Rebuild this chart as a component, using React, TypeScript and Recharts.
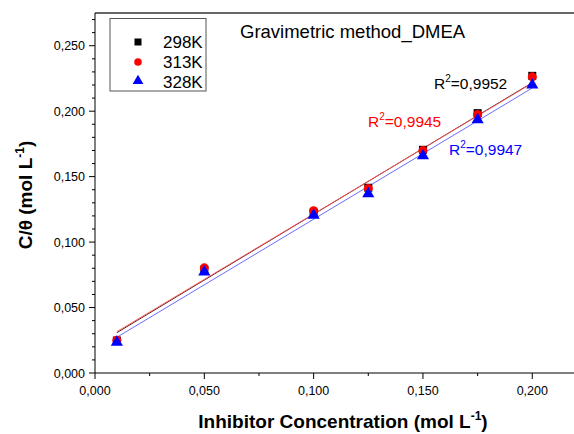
import React from "react";
import {
  ComposedChart,
  Scatter,
  Line,
  XAxis,
  YAxis,
  ReferenceLine,
  Symbols,
} from "recharts";

// inhibitor concentration (mol L-1)
const conc = [0.01, 0.05, 0.1, 0.125, 0.15, 0.175, 0.2];

// C/theta values
const k298 = [0.0248, 0.079, 0.1225, 0.1415, 0.1705, 0.1985, 0.227];
const k313 = [0.025, 0.0803, 0.124, 0.141, 0.17, 0.1975, 0.2262];
const k328 = [0.0235, 0.0772, 0.1205, 0.137, 0.166, 0.1935, 0.22];

// fitted lines, ends at x = 0.01 and x = 0.2
const fitX = [0.01, 0.2];
const fit298 = [0.0308, 0.2218];
const fit313 = [0.0316, 0.2214];
const fit328 = [0.0273, 0.2177];

const r2Labels = ["0,9952", "0,9945", "0,9947"];

const xTicks = [0, 0.025, 0.05, 0.075, 0.1, 0.125, 0.15, 0.175, 0.2];
const yTicks = [
  0, 0.01, 0.02, 0.03, 0.04, 0.05, 0.06, 0.07, 0.08, 0.09, 0.1, 0.11, 0.12,
  0.13, 0.14, 0.15, 0.16, 0.17, 0.18, 0.19, 0.2, 0.21, 0.22, 0.23, 0.24, 0.25,
  0.26, 0.27,
];

const toPts = (xs: number[], ys: number[]) =>
  xs.map((x, i) => ({ x, y: ys[i] }));

const FONT = "'Liberation Sans', Arial, sans-serif";

const fmt = (v: number) => v.toFixed(3).replace(".", ",");
const isMajor = (v: number) => Math.abs(v / 0.05 - Math.round(v / 0.05)) < 1e-6;

const XTick = (props: any) => {
  const { x, y, payload } = props;
  const major = isMajor(payload.value);
  return (
    <g>
      <line x1={x} x2={x} y1={y} y2={y + (major ? 6 : 3)} stroke="#000" />
      {major && (
        <text x={x} y={y + 22} textAnchor="middle" fontSize={12.5} fontFamily={FONT} fill="#000">
          {fmt(payload.value)}
        </text>
      )}
    </g>
  );
};

const YTick = (props: any) => {
  const { x, y, payload } = props;
  const major = isMajor(payload.value);
  return (
    <g>
      <line x1={x} x2={x - (major ? 6 : 3)} y1={y} y2={y} stroke="#000" />
      {major && (
        <text x={x - 10} y={y + 4.5} textAnchor="end" fontSize={12.5} fontFamily={FONT} fill="#000">
          {fmt(payload.value)}
        </text>
      )}
    </g>
  );
};

const R2 = ({ x, y, color, value }: { x: number; y: number; color: string; value: string }) => (
  <text x={x} y={y} fontSize={15.5} fontFamily={FONT} fill={color}>
    R
    <tspan dy={-7} fontSize={10}>2</tspan>
    <tspan dy={7}>={value}</tspan>
  </text>
);

export default function App() {
  return (
    <div style={{ position: "absolute", left: 0, top: 0, width: 574, height: 434, overflow: "hidden", background: "#fff" }}>
      <ComposedChart width={576} height={434} margin={{ top: 13, right: 0, left: 0, bottom: 0 }}>
        <XAxis
          dataKey="x"
          type="number"
          domain={[0, 0.22]}
          ticks={xTicks}
          interval={0}
          tickSize={0}
          tickMargin={0}
          tickLine={false}
          tick={<XTick />}
          height={61}
          stroke="#000"
          allowDataOverflow
        />
        <YAxis
          dataKey="y"
          type="number"
          domain={[0, 0.275]}
          ticks={yTicks}
          interval={0}
          tickSize={0}
          tickMargin={0}
          tickLine={false}
          tick={<YTick />}
          width={95}
          stroke="#000"
          allowDataOverflow
        />
        <ReferenceLine y={0.275} stroke="#333" strokeWidth={1.5} />

        <Line data={toPts(fitX, fit298)} dataKey="y" stroke="#400000" strokeWidth={0.9} dot={false} legendType="none" isAnimationActive={false} />
        <Line data={toPts(fitX, fit313)} dataKey="y" stroke="#ff5a5a" strokeWidth={0.9} dot={false} legendType="none" isAnimationActive={false} />
        <Line data={toPts(fitX, fit328)} dataKey="y" stroke="#5a5aff" strokeWidth={0.9} dot={false} legendType="none" isAnimationActive={false} />

        <Scatter name="298K" data={toPts(conc, k298)} fill="#000" shape="square" isAnimationActive={false} />
        <Scatter name="313K" data={toPts(conc, k313)} fill="#ff0000" shape="circle" isAnimationActive={false} />
        <Scatter name="328K" data={toPts(conc, k328)} fill="#0000ff" shape="triangle" isAnimationActive={false} />

        <text x={240} y={38} fontSize={18.5} fontFamily={FONT} fill="#000">
          Gravimetric method_DMEA
        </text>

        <R2 x={434} y={89} color="#000" value={r2Labels[0]} />
        <R2 x={368} y={127} color="#ff0000" value={r2Labels[1]} />
        <R2 x={449} y={155} color="#0000ff" value={r2Labels[2]} />

        <g>
          <rect x={110} y={18.5} width={96} height={72.5} fill="#fff" stroke="#555" strokeWidth={1} />
          <Symbols cx={138} cy={42} type="square" size={49} fill="#000" />
          <Symbols cx={138} cy={62} type="circle" size={45} fill="#ff0000" />
          <Symbols cx={138} cy={81} type="triangle" size={50} fill="#0000ff" />
          <text x={163} y={48} fontSize={17} fontFamily={FONT} fill="#000">298K</text>
          <text x={163} y={68} fontSize={17} fontFamily={FONT} fill="#000">313K</text>
          <text x={163} y={88} fontSize={17} fontFamily={FONT} fill="#000">328K</text>
        </g>

        <text x={343} y={428} textAnchor="middle" fontSize={19} fontWeight="bold" fontFamily={FONT} fill="#000">
          Inhibitor Concentration (mol L
          <tspan dy={-8} fontSize={12}>-1</tspan>
          <tspan dy={8}>)</tspan>
        </text>
        <text
          x={32}
          y={195}
          transform="rotate(-90, 32, 195)"
          textAnchor="middle"
          fontSize={19}
          fontWeight="bold"
          fontFamily={FONT}
          fill="#000"
        >
          C/θ (mol L
          <tspan dy={-8} fontSize={12}>-1</tspan>
          <tspan dy={8}>)</tspan>
        </text>
      </ComposedChart>
    </div>
  );
}
